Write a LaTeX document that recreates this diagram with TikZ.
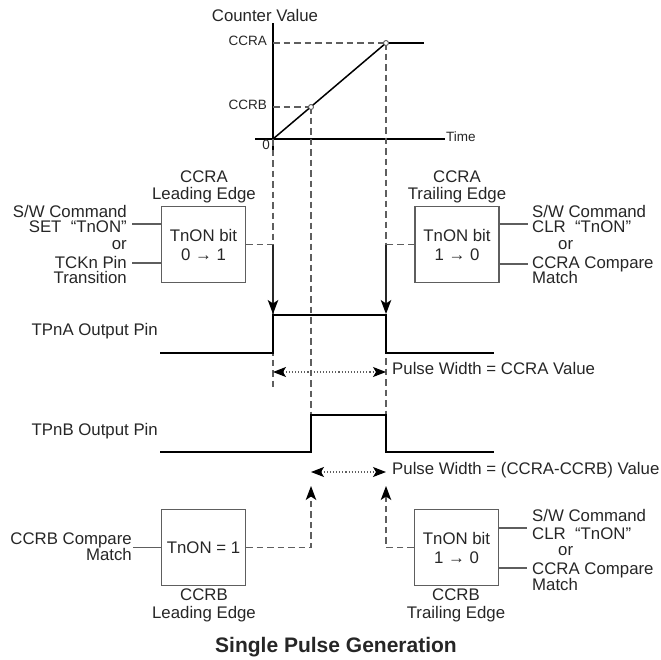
\documentclass[tikz,border=0pt]{standalone}
\usepackage{fontspec}
\setmainfont{Liberation Sans}
\usetikzlibrary{arrows.meta}
\definecolor{gline}{HTML}{5E5E5E}
\newcommand\stackfont{\fontsize{16.8}{15}\selectfont\lineskiplimit=-20pt\relax}
\begin{document}
\begin{tikzpicture}[x=1pt,y=-1pt,
  txt/.style={font=\fontsize{16.8}{19}\selectfont, inner sep=0pt, text=black!85},
  stack/.style={font=\stackfont, inner sep=0pt, text=black!85},
  small/.style={font=\fontsize{13.5}{15}\selectfont, inner sep=0pt, text=black!85},
  box/.style={draw=gline, line width=1.3pt, inner sep=0pt, minimum width=84pt, minimum height=76pt, align=center, font=\fontsize{16.8}{19}\selectfont, text=black!85},
  wave/.style={line width=1.8pt, black, line join=miter},
  axis/.style={line width=1.2pt, black},
  guide/.style={draw=gline, line width=1.2pt, dash pattern=on 6.5pt off 4pt},
  feed/.style={draw=gline, line width=1.2pt},
  solidarrow/.style={line width=1.2pt, black!85},
  tipend/.style={-{Stealth[length=14pt,width=10.5pt,inset=3.5pt,black]}},
  dim/.style={draw=gline, line width=1.1pt, dotted, {Stealth[length=13pt,width=10pt,inset=3pt,black]}-{Stealth[length=13pt,width=10pt,inset=3pt,black]}},
  dot/.style={draw=gline, fill=white, line width=0.9pt}]
\useasboundingbox (0,0) rectangle (661,659);

% ---------- counter graph ----------
\node[txt] (cv) at (265,15) {Counter Value};
\coordinate (O) at (273,139);
\coordinate (PB) at (311,107);
\coordinate (PA) at (386,43);
\draw[axis] (273,23) -- (273,150);
\draw[axis] (255,139) -- (445,139);
\node[small, anchor=mid west] (time) at (446,139) {Time};
\node[small, anchor=mid east] (zero) at (270,147) {0};
\node[small, anchor=mid east] (lccra) at (267,43) {CCRA};
\node[small, anchor=mid east] (lccrb) at (267,107) {CCRB};
\draw[guide] (O |- PA) -- (PA);
\draw[guide] (O |- PB) -- (PB);
\draw[line width=1.5pt, black] (O) -- (PA);
\draw[wave] (PA) -- (424,43);

% ---------- vertical time markers ----------
\draw[guide] (O) -- (273,387);
\draw[guide] (PB) -- (311,452);
\draw[guide] (PA) -- (386,452);
\draw[dot] (PB) circle (2.5);
\draw[dot] (PA) circle (2.5);

% ---------- waveforms ----------
\coordinate (A0) at (160,353);
\coordinate (A1) at (273,353);
\coordinate (A2) at (273,315);
\coordinate (A3) at (386,315);
\coordinate (A4) at (386,353);
\coordinate (A5) at (494,353);
\draw[wave] (A0) -- (A1) -- (A2) -- (A3) -- (A4) -- (A5);
\coordinate (B0) at (160,452);
\coordinate (B1) at (311,452);
\coordinate (B2) at (311,415);
\coordinate (B3) at (386,415);
\coordinate (B4) at (386,452);
\coordinate (B5) at (494,452);
\draw[wave] (B0) -- (B1) -- (B2) -- (B3) -- (B4) -- (B5);
\node[txt, anchor=mid east] (tpa) at (158,333) {TPnA Output Pin};
\node[txt, anchor=mid east] (tpb) at (158,433) {TPnB Output Pin};

% pulse width dimensions
\draw[dim] (273,372) -- (386,372);
\node[txt, anchor=mid west] (pwa) at (392,372) {Pulse Width = CCRA Value};
\draw[dim] (311,472) -- (386,472);
\node[txt, anchor=mid west] (pwb) at (392,472) {Pulse Width = (CCRA-CCRB) Value};

% ---------- CCRA leading edge ----------
\node[box] (ccraL) at (203.5,244.5) {TnON bit\\0 → 1};
\node[txt] (ccraLa) at (204,177) {CCRA};
\node[txt] (ccraLb) at (204,195) {Leading Edge};
\node[stack, align=right, anchor=north east] (lin) at (127,205)
  {S/W Command\\SET\ \ “TnON”\hspace*{7pt}\\[2pt]or\hspace*{30pt}\\[4pt]TCKn Pin\\Transition};
\draw[feed] (ccraL.west |- 0,224) -- ++(-29,0);
\draw[feed] (ccraL.west |- 0,263) -- ++(-29,0);
\coordinate (cA) at (273,244.5);
\coordinate (eA) at (273,314);
\draw[guide] (ccraL.east) -- (cA);
\draw[solidarrow, tipend] (cA) -- (eA);

% ---------- CCRA trailing edge ----------
\node[box] (ccraT) at (457,244.5) {TnON bit\\1 → 0};
\node[txt] (ccraTa) at (457,177) {CCRA};
\node[txt] (ccraTb) at (457,195) {Trailing Edge};
\node[stack, align=left, anchor=north west] (rin) at (532,205)
  {S/W Command\\CLR\ \ “TnON”\\[2pt]\hspace*{26pt}or\\[4pt]CCRA Compare\\Match};
\draw[feed] (ccraT.east |- 0,224) -- ++(28,0);
\draw[feed] (ccraT.east |- 0,264) -- ++(28,0);
\coordinate (cB) at (386,244.5);
\coordinate (eB) at (386,314);
\draw[guide] (ccraT.west) -- (cB);
\draw[solidarrow, tipend] (cB) -- (eB);

% ---------- CCRB leading edge ----------
\node[box] (ccrbL) at (203.5,547.5) {TnON = 1};
\node[txt] (ccrbLa) at (204,595) {CCRB};
\node[txt] (ccrbLb) at (204,614) {Leading Edge};
\node[stack, align=right, anchor=north east] (bin) at (132,533)
  {CCRB Compare\\[1pt]Match};
\draw[feed] (ccrbL.west) -- ++(-28,0);
\coordinate (tB) at (311,486);
\draw[guide, tipend] (ccrbL.east) -| (tB);

% ---------- CCRB trailing edge ----------
\node[box] (ccrbT) at (456.5,547.5) {TnON bit\\1 → 0};
\node[txt] (ccrbTa) at (456,595) {CCRB};
\node[txt] (ccrbTb) at (456,614) {Trailing Edge};
\node[stack, align=left, anchor=north west] (sin) at (532,509)
  {S/W Command\\[3pt]CLR\ \ “TnON”\\[1pt]\hspace*{26pt}or\\[4pt]CCRA Compare\\[1pt]Match};
\draw[feed] (ccrbT.east |- 0,528) -- ++(28,0);
\draw[feed] (ccrbT.east |- 0,568) -- ++(28,0);
\coordinate (tC) at (386,486);
\draw[guide, tipend] (ccrbT.west) -| (tC);

% ---------- title ----------
\node[font=\fontsize{21}{24}\selectfont\bfseries, inner sep=0pt, text=black!85] (title) at (336,647) {Single Pulse Generation};
\end{tikzpicture}
\end{document}
